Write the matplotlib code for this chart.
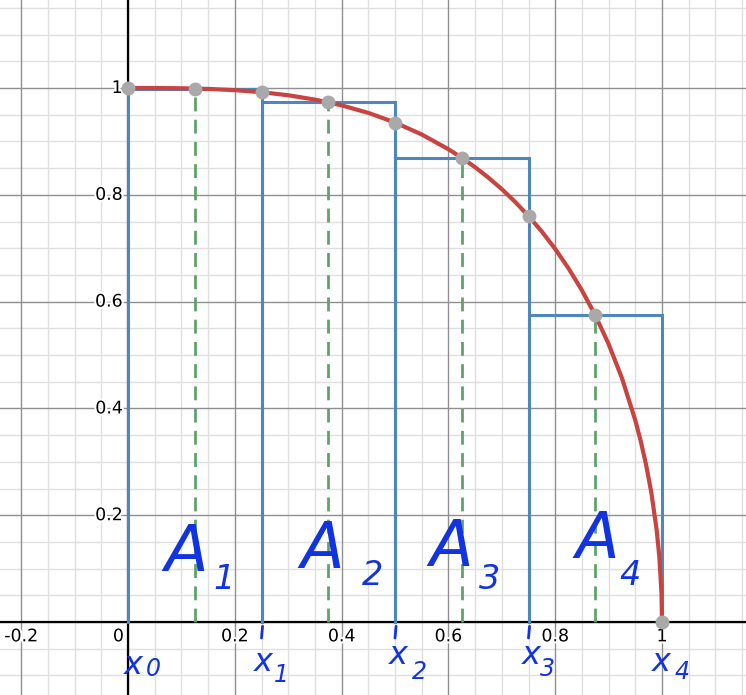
import matplotlib
matplotlib.use("Agg")
import matplotlib.pyplot as plt
import matplotlib.patheffects as pe
import numpy as np

# ---- data ----
curve_x = [0.0, 0.05, 0.1, 0.15, 0.2, 0.25, 0.3, 0.35, 0.4, 0.45, 0.5, 0.55, 0.6,
           0.625, 0.65, 0.675, 0.7, 0.725, 0.75, 0.775, 0.8, 0.825, 0.85, 0.875,
           0.9, 0.925, 0.95, 0.96, 0.97, 0.98, 0.99, 0.995, 0.999, 1.0]
curve_y = [1.0, 1.0, 0.9995, 0.9983, 0.996, 0.9922, 0.9864, 0.9783, 0.9675, 0.9534,
           0.9354, 0.913, 0.8854, 0.8694, 0.8517, 0.8321, 0.8106, 0.7867, 0.7603,
           0.7311, 0.6986, 0.6622, 0.6212, 0.5745, 0.5206, 0.4567, 0.3777, 0.3395,
           0.2955, 0.2425, 0.1723, 0.1222, 0.0547, 0.0]

partition_x = [0.0, 0.25, 0.5, 0.75, 1.0]
partition_y = [1.0, 0.992, 0.935, 0.760, 0.0]
mid_x = [0.125, 0.375, 0.625, 0.875]
mid_y = [0.999, 0.973, 0.869, 0.575]

x_ticks = [-0.2, 0, 0.2, 0.4, 0.6, 0.8, 1]
x_tick_labels = ["-0.2", "0", "0.2", "0.4", "0.6", "0.8", "1"]
y_ticks = [0.2, 0.4, 0.6, 0.8, 1]
y_tick_labels = ["0.2", "0.4", "0.6", "0.8", "1"]

area_labels = ["1", "2", "3", "4"]
node_labels = ["0", "1", "2", "3", "4"]

RED = "#c74440"
BLUE = "#4f86bb"
GREEN = "#5fa36b"
GRAY = "#a9a9a9"
INK = "#1233e0"

fig = plt.figure(figsize=(7.46, 6.95), dpi=100)
ax = fig.add_axes([0, 0, 1, 1])
ax.set_xlim(-0.2397, 1.1573)
ax.set_ylim(-0.1367, 1.1648)
ax.axis("off")

# grid
for v in np.arange(-0.2, 1.2001, 0.05):
    major = abs(v / 0.2 - round(v / 0.2)) < 1e-6
    ax.axvline(v, color="#8f8f8f" if major else "#e0e0e0", lw=1.0, zorder=1 if major else 0.5)
for v in np.arange(-0.15, 1.2001, 0.05):
    major = abs(v / 0.2 - round(v / 0.2)) < 1e-6
    ax.axhline(v, color="#8f8f8f" if major else "#e0e0e0", lw=1.0, zorder=1 if major else 0.5)

# axes
ax.axhline(0, color="black", lw=1.6, zorder=2)
ax.axvline(0, color="black", lw=1.6, zorder=2)

halo = [pe.withStroke(linewidth=3, foreground="white")]
for t, lab in zip(x_ticks, x_tick_labels):
    xx = t if t != 0 else -0.018
    ax.text(xx, -0.01, lab, ha="center", va="top", fontsize=12.5, zorder=3,
            path_effects=halo)
for t, lab in zip(y_ticks, y_tick_labels):
    ax.text(-0.01, t, lab, ha="right", va="center", fontsize=12.5, zorder=3,
            path_effects=halo)

# rectangles (midpoint rule)
for i in range(4):
    x0, x1 = partition_x[i], partition_x[i + 1]
    h = mid_y[i]
    ax.plot([x0, x0, x1, x1], [0, h, h, 0], color=BLUE, lw=2.2, zorder=4,
            solid_joinstyle="miter")

# green dashed midpoint lines
for mx, my in zip(mid_x, mid_y):
    ax.plot([mx, mx], [0, my], color=GREEN, lw=2.0, ls=(0, (5, 3)), zorder=5)

# curve
ax.plot(curve_x, curve_y, color=RED, lw=3.0, zorder=6, solid_capstyle="round")

# gray points
ax.plot(partition_x + mid_x, partition_y + mid_y, "o", color=GRAY, ms=10,
        mec="none", zorder=7)

# handwritten-like labels
A_pos = [(0.11, 0.129), (0.363, 0.135), (0.606, 0.139), (0.878, 0.154)]
sub_pos = [(0.18, 0.079), (0.457, 0.088), (0.678, 0.079), (0.94, 0.088)]
for (ax_, ay_), (sx, sy), s in zip(A_pos, sub_pos, area_labels):
    ax.text(ax_, ay_, "A", color=INK, fontsize=46, ha="center", va="center",
            style="italic", zorder=8)
    ax.text(sx, sy, s, color=INK, fontsize=24, ha="center", va="center",
            style="italic", zorder=8)

node_x_pos = [(0.01, -0.081), (0.254, -0.075), (0.506, -0.062), (0.755, -0.062), (0.998, -0.075)]
node_s_pos = [(0.047, -0.088), (0.288, -0.099), (0.546, -0.094), (0.785, -0.088), (1.037, -0.094)]
for (nx, ny), (sx, sy), s in zip(node_x_pos, node_s_pos, node_labels):
    ax.text(nx, ny, "x", color=INK, fontsize=23, ha="center", va="center",
            style="italic", zorder=8)
    ax.text(sx, sy, s, color=INK, fontsize=17, ha="center", va="center",
            style="italic", zorder=8)

# small pen ticks under x1, x2, x3
for px in partition_x[1:4]:
    ax.plot([px + 0.002, px], [-0.008, -0.03], color=INK, lw=2.0, zorder=8,
            solid_capstyle="round")

fig.savefig("out.png", dpi=100)
